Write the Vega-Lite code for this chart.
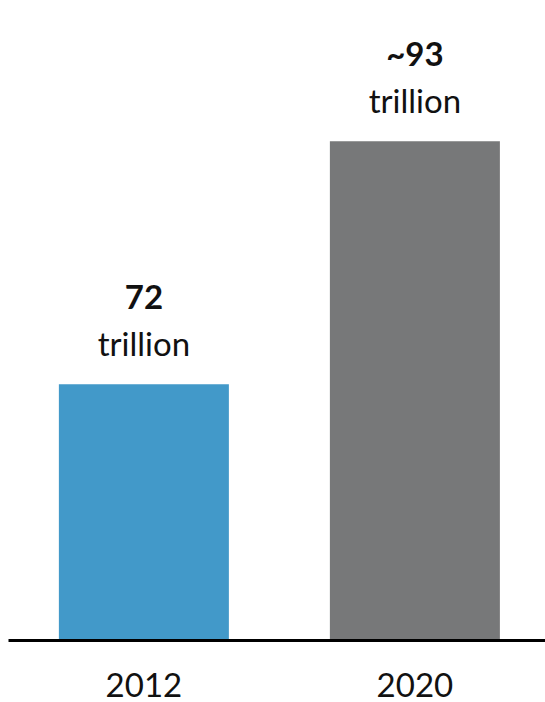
{
  "$schema": "https://vega.github.io/schema/vega-lite/v6.json",
  "autosize": "none",
  "padding": {"left": 8, "top": 0, "right": 0, "bottom": 63},
  "width": 537,
  "height": 639,
  "background": "white",
  "config": {"view": {"stroke": null}, "font": "Lato"},
  "data": {"values": [
    {"year": "2012", "value": 72, "label": "72", "unit": "trillion"},
    {"year": "2020", "value": 93, "label": "~93", "unit": "trillion"}
  ]},
  "encoding": {
    "x": {"field": "year", "type": "nominal", "sort": null,
      "scale": {"paddingInner": 0.3727, "paddingOuter": 0.1771, "align": 0.53},
      "axis": {"title": null, "labelAngle": 0, "ticks": false, "tickSize": 0, "labelPadding": 30,
        "labelFontSize": 33, "labelColor": "#111111", "labelFont": "Lato",
        "domainColor": "#000000", "domainWidth": 3, "offset": 1}},
    "y": {"field": "value", "type": "quantitative",
      "scale": {"domain": [50, 105.2], "zero": false, "nice": false, "clamp": true},
      "axis": null}
  },
  "layer": [
    {"mark": {"type": "bar"},
     "encoding": {"color": {"field": "year", "type": "nominal", "legend": null,
       "scale": {"domain": ["2012", "2020"], "range": ["#4299C9", "#777879"]}}}},
    {"mark": {"type": "text", "dy": -75, "baseline": "alphabetic", "fontSize": 33, "fontWeight": "bold", "color": "#111111"},
     "encoding": {"text": {"field": "label"}}},
    {"mark": {"type": "text", "dy": -28, "baseline": "alphabetic", "fontSize": 33, "color": "#111111"},
     "encoding": {"text": {"field": "unit"}}}
  ]
}
